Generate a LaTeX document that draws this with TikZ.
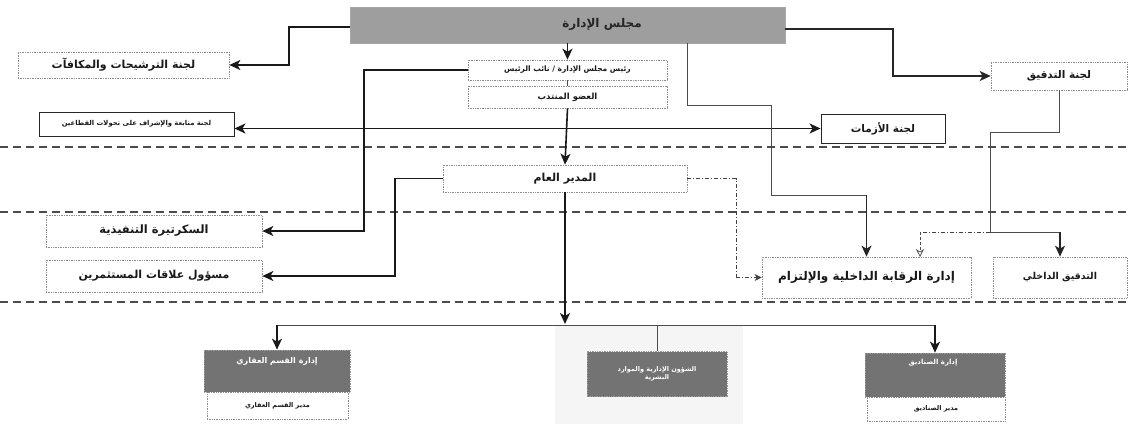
\documentclass[tikz,border=0pt]{standalone}
\usepackage{fontspec}
\newfontfamily\arabicfont[Script=Arabic]{DejaVu Sans}
\TeXXeTstate=1
\newcommand{\artx}[1]{\beginR #1\endR}
\usetikzlibrary{arrows.meta,calc}
\tikzset{
  box/.style={draw=black!45, densely dotted, line width=0.7pt, fill=white, inner sep=0pt, text=black!90},
  solidbox/.style={draw=black!85, line width=0.9pt, fill=white, inner sep=0pt, text=black!90},
  graybox/.style={draw=black!40, densely dotted, line width=0.7pt, fill=black!55, inner sep=0pt, text=white},
  boardbox/.style={draw=black!35, line width=0.5pt, fill=black!38, inner sep=0pt},
  fsz/.style={font=\arabicfont\fontsize{#1}{#1}\selectfont},
  fszb/.style={font=\arabicfont\bfseries\fontsize{#1}{#1}\selectfont},
  thick conn/.style={draw=black!90, line width=1.6pt},
  mid conn/.style={draw=black!85, line width=1.2pt},
  thin conn/.style={draw=black!70, line width=0.7pt},
  dd conn/.style={draw=black!75, line width=0.8pt, dash pattern=on 4pt off 2pt on 1pt off 2pt},
  arr/.style={-{Stealth[length=11pt,width=10pt,inset=3pt]}},
  darr/.style={{Stealth[length=11pt,width=10pt,inset=3pt]}-{Stealth[length=11pt,width=10pt,inset=3pt]}},
  sarr/.style={-{Stealth[length=7pt,width=7pt,inset=2pt]}},
  sep line/.style={draw=black!70, line width=1.3pt, dash pattern=on 8pt off 5pt}
}
\begin{document}
\begin{tikzpicture}[x=1pt,y=-1pt]
\useasboundingbox (0,0) rectangle (1130,424);
\fill[white] (0,0) rectangle (1130,424);
\fill[black!4] (555,325) rectangle (743,424);

% separators
\draw[sep line] (0,147) -- (1130,147);
\draw[sep line] (0,212) -- (1130,212);
\draw[sep line] (0,302) -- (1130,302);

% nodes
\node[boardbox, minimum width=435pt, minimum height=36pt] (board) at (567.5,25) {};
\node[fszb=12, text=black!85] (boardtxt) at (602,24) {\artx{مجلس الإدارة}};

\node[box, fszb=11, minimum width=211pt, minimum height=26pt] (nom) at (123.5,65) {\artx{لجنة الترشيحات والمكافآت}};
\node[box, fszb=7.5, minimum width=199pt, minimum height=20pt] (chair) at (567.5,70) {\artx{رئيس مجلس الإدارة / نائب الرئيس}};
\node[box, fszb=8.5, minimum width=199pt, minimum height=22pt] (md) at (567.5,97) {\artx{العضو المنتدب}};
\node[solidbox, fszb=6.8, minimum width=195pt, minimum height=24pt] (mon) at (136.5,124) {\artx{لجنة متابعة والإشراف على تحولات القطاعين}};
\node[solidbox, fszb=10.5, minimum width=124pt, minimum height=29pt] (crisis) at (883,128.5) {\artx{لجنة الأزمات}};
\node[box, fszb=10.5, minimum width=136pt, minimum height=28pt] (audit) at (1059,76) {\artx{لجنة التدقيق}};
\node[box, fszb=11, minimum width=244pt, minimum height=27pt] (gm) at (565,178.5) {\artx{المدير العام}};
\node[box, fszb=11.5, minimum width=216pt, minimum height=32pt] (sec) at (154,231) {\artx{السكرتيرة التنفيذية}};
\node[box, fszb=11, minimum width=216pt, minimum height=32pt] (inv) at (154,276) {\artx{مسؤول علاقات المستثمرين}};
\node[box, fszb=12, minimum width=209pt, minimum height=41pt] (ctrl) at (866.5,277.5) {\artx{إدارة الرقابة الداخلية والإلتزام}};
\node[box, fszb=9.5, minimum width=134pt, minimum height=41pt] (iaud) at (1060,277.5) {\artx{التدقيق الداخلي}};

\node[graybox, minimum width=146pt, minimum height=42pt] (re) at (277,371) {};
\node[fszb=8, text=white] (retxt) at (277,361) {\artx{إدارة القسم العقاري}};
\node[box, fszb=6.5, minimum width=141pt, minimum height=27pt] (rew) at (277.5,405.5) {\artx{مدير القسم العقاري}};

\node[graybox, fszb=6.5, align=center, minimum width=140pt, minimum height=45pt] (hr) at (657,374) {\artx{الشؤون الإدارية والموارد}\\[1pt]\artx{البشرية}};

\node[graybox, minimum width=140pt, minimum height=44pt] (fd) at (935,375) {};
\node[fszb=7, text=white] (fdtxt) at (933,363) {\artx{إدارة الصناديق}};
\node[box, fszb=6.5, minimum width=138pt, minimum height=24pt] (fdw) at (936,409) {\artx{مدير الصناديق}};

% connectors
\draw[thick conn, arr] (board.west |- 0,27) -- (289,27) |- (nom.east);
\draw[thick conn, arr] (board.south) -- (chair.north);
\draw[mid conn, arr] (board.east |- 0,29) -- (893,29) |- (audit.west);
\draw[thin conn] (chair.south) -- (md.north);
\draw[thick conn, arr] (chair.west) -- (364,70) |- (sec.east);
\draw[thick conn, arr] (md.south) -- (gm.north);
\draw[thick conn, darr] (mon.east |- crisis.west) -- (crisis.west);
\draw[thick conn, arr] (gm.west) -- (395,178.5) |- (inv.east);

\draw[thin conn] (687,43) -- (687,105) -- (771,105) -- (771,195) -- (866.5,195);
\draw[mid conn, arr] (866.5,195) -- (ctrl.north);

\draw[thin conn] (audit.south) -- (1059,132) -- (990,132) -- (990,232) -- (1060,232);
\draw[mid conn, arr] (1060,232) -- (iaud.north);
\draw[dd conn] (990,232) -- (920,232);
\draw[thin conn, densely dashed, -{Stealth[open,length=8pt,width=8pt]}] (920,232) -- (920,257);

\draw[dd conn] (gm.east) -- (736,178.5) -- (736,277.5);
\draw[dd conn, sarr] (736,277.5) -- (ctrl.west);

\draw[thick conn, arr] (gm.south) -- (565,324);
\draw[thin conn] (277,325) -- (935,325);
\draw[thick conn, arr] (277,325) -- (re.north);
\draw[thin conn, line width=1pt] (657,325) -- (hr.north);
\draw[thick conn, arr] (935,325) -- (fd.north);
\end{tikzpicture}
\end{document}
